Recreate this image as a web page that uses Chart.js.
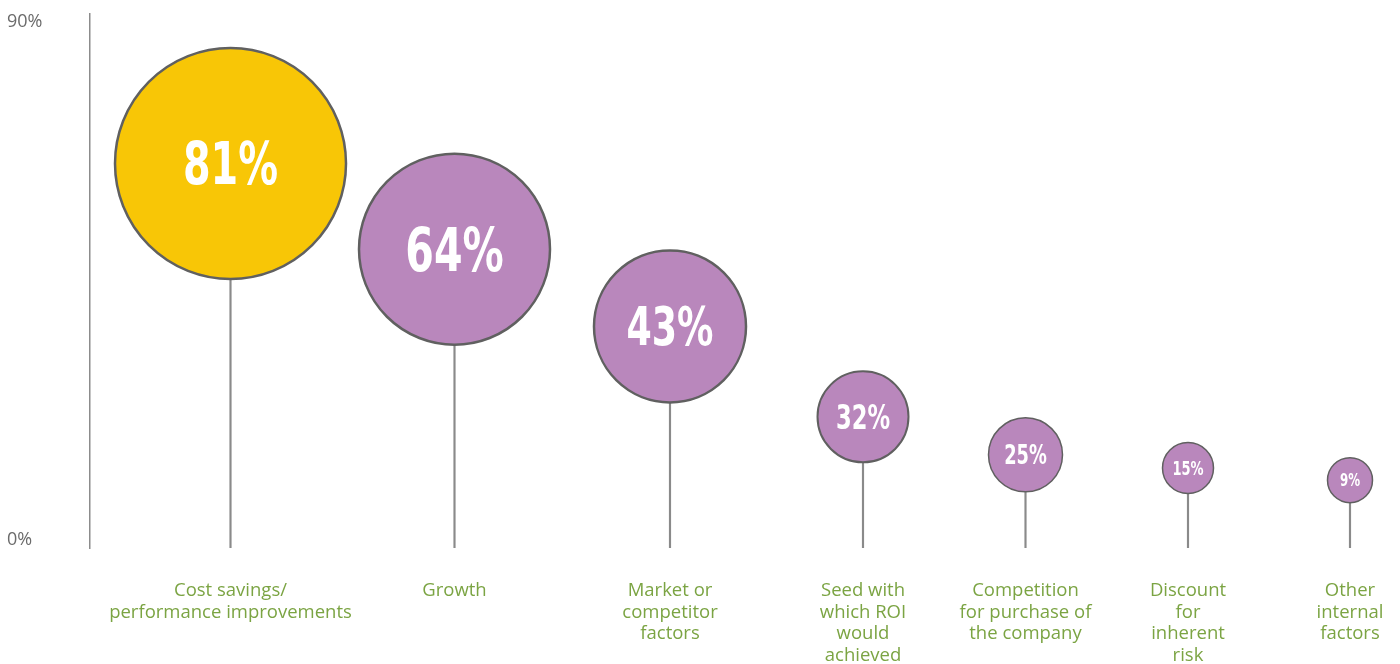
<!DOCTYPE html>
<html>
<head>
<meta charset="utf-8">
<script src="https://cdn.jsdelivr.net/npm/chart.js@4.4.1/dist/chart.umd.min.js"></script>
<style>
  html, body { margin: 0; padding: 0; background: #fff; }
  #wrap { width: 1400px; height: 664px; }
</style>
</head>
<body>
<div id="wrap"><canvas id="driversChart"></canvas></div>
<script>
const categories = [
    ['Cost savings/', 'performance improvements'],
    ['Growth'],
    ['Market or', 'competitor', 'factors'],
    ['Seed with', 'which ROI', 'would', 'achieved'],
    ['Competition', 'for purchase of', 'the company'],
    ['Discount', 'for', 'inherent', 'risk'],
    ['Other', 'internal', 'factors']
];
const shares = [81, 64, 43, 32, 25, 15, 9];
const yTickValues = [0, 90];

// balloon layout: where each one sits along the axis, how high its stem goes, its radius (px)
const slotX = [140.5, 364.5, 580, 773, 935.5, 1098, 1260];
const stemTop = [65.4, 50.5, 37.1, 21.4, 14.8, 12.5, 10.4];
const balloonR = [115.5, 95.5, 76, 45.5, 37, 25.5, 22.5];
const labelSize = [58, 60, 53, 33, 26, 19, 17];
const balloonBorder = [2.5, 2.5, 2.5, 2, 1.5, 1.5, 1.5];

const Y_MIN = -1.385;
const Y_MAX = 91.385;

const YELLOW = '#F8C606';
const PURPLE = '#B987BC';
const GREEN = '#7BA443';

// percentages inside the balloons, squeezed to a narrow face
const balloonLabels = {
    id: 'balloonLabels',
    afterDatasetsDraw(chart) {
        const meta = chart.getDatasetMeta(1);
        const ctx = chart.ctx;
        ctx.save();
        ctx.fillStyle = '#fff';
        ctx.textAlign = 'center';
        ctx.textBaseline = 'alphabetic';
        meta.data.forEach((pt, i) => {
            const size = labelSize[i];
            const text = shares[i] + '%';
            ctx.font = 'bold ' + size + 'px "Liberation Sans Narrow", "DejaVu Sans Condensed", "Liberation Sans", sans-serif';
            const digits = String(shares[i]).length;
            const wanted = size * (digits * 0.456 + 0.729);
            const sx = Math.min(1, wanted / ctx.measureText(text).width);
            ctx.save();
            ctx.translate(pt.x, pt.y + size * 0.36);
            ctx.scale(sx, 1);
            ctx.fillText(text, 0, 0);
            ctx.restore();
        });
        ctx.restore();
    }
};

const data = {
    datasets: [
        {
            // stems
            type: 'bar',
            data: slotX.map((x, i) => ({ x: x, y: [Y_MIN, stemTop[i]] })),
            backgroundColor: '#8a8a8a',
            barThickness: 1.5,
            grouped: false,
            order: 2
        },
        {
            type: 'bubble',
            data: slotX.map((x, i) => ({ x: x, y: stemTop[i], r: balloonR[i] })),
            backgroundColor: shares.map((v, i) => i === 0 ? YELLOW : PURPLE),
            borderColor: '#606060',
            borderWidth: balloonBorder,
            hoverRadius: 0,
            clip: false,
            order: 1
        }
    ]
};

const config = {
    type: 'bubble',
    data: data,
    plugins: [balloonLabels],
    options: {
        responsive: true,
        maintainAspectRatio: false,
        animation: false,
        events: [],
        layout: {
            autoPadding: false,
            padding: { left: 7, top: 12, right: 0, bottom: 0 }
        },
        plugins: {
            legend: { display: false },
            tooltip: { enabled: false }
        },
        scales: {
            x: {
                type: 'linear',
                min: 0,
                max: 1310,
                offset: false,
                afterBuildTicks: scale => {
                    scale.ticks = slotX.map(v => ({ value: v }));
                },
                afterFit: scale => {
                    scale.height = 116;
                    scale.paddingLeft = 0;
                    scale.paddingRight = 0;
                },
                grid: { display: false, drawTicks: false, offset: false },
                border: { display: false },
                ticks: {
                    autoSkip: false,
                    maxRotation: 0,
                    minRotation: 0,
                    padding: 32,
                    color: GREEN,
                    font: { family: '"Open Sans", "Noto Sans", sans-serif', size: 18.5, lineHeight: '21.5px' },
                    callback: (value, index) => categories[index]
                }
            },
            y: {
                type: 'linear',
                min: Y_MIN,
                max: Y_MAX,
                afterBuildTicks: scale => {
                    scale.ticks = yTickValues.map(v => ({ value: v }));
                },
                afterFit: scale => {
                    scale.width = 83;
                },
                grid: { display: false, drawTicks: false },
                border: { display: true, color: '#8c8c8c', width: 1.5 },
                ticks: {
                    crossAlign: 'far',
                    color: '#6b6b6b',
                    font: { family: '"Open Sans", "Noto Sans", sans-serif', size: 18 },
                    callback: value => value + '%'
                }
            }
        }
    }
};

new Chart(
    document.getElementById('driversChart').getContext('2d'),
    config
);
</script>
</body>
</html>
